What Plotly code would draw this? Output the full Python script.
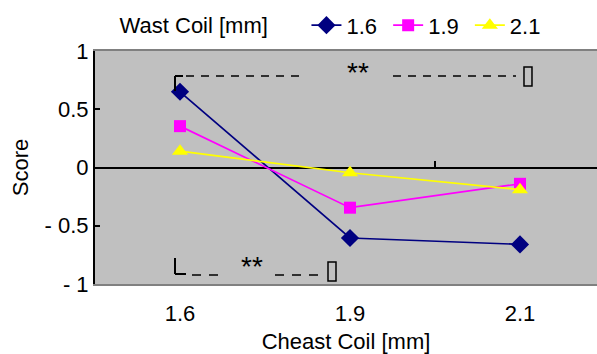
import plotly.graph_objects as go

categories = ["1.6", "1.9", "2.1"]
series_names = ["1.6", "1.9", "2.1"]
values_16 = [0.65, -0.605, -0.66]
values_19 = [0.355, -0.345, -0.14]
values_21 = [0.14, -0.045, -0.19]
y_tick_vals = [-1, -0.5, 0, 0.5, 1]
y_tick_text = ["- 1", "- 0.5", "0", "0.5", "1"]

colors = ["#000080", "#FF00FF", "#FFFF00"]
symbols = ["diamond", "square", "triangle-up"]
msizes = [14, 12, 14]
xpos = list(range(len(categories)))

FONT = "Liberation Sans"
FS = 22
fig = go.Figure()
for name, vals, c, s, ms in zip(series_names, [values_16, values_19, values_21], colors, symbols, msizes):
    fig.add_trace(go.Scatter(x=xpos, y=vals, name=name + "\u00a0", mode="lines+markers",
                             line=dict(color=c, width=1.7),
                             marker=dict(symbol=s, size=ms, color=c)))

# helper: pixel -> data conversion for annotation brackets
def dx(px):
    return (px - 180) / 170.0

def dy(py):
    return (167.5 - py) / 116.5

shapes = []
blk = dict(color="black", width=2)
# top bracket
shapes.append(dict(type="line", xref="x", yref="y", x0=dx(175), x1=dx(175), y0=dy(76), y1=dy(91), line=blk))
shapes.append(dict(type="line", xref="x", yref="y", x0=dx(175), x1=dx(183), y0=dy(76), y1=dy(76), line=blk))
shapes.append(dict(type="line", xref="x", yref="y", x0=dx(186), x1=dx(301), y0=dy(76), y1=dy(76),
                   line=dict(color="black", width=1.5, dash="8px,7px")))
shapes.append(dict(type="line", xref="x", yref="y", x0=dx(393), x1=dx(516), y0=dy(76), y1=dy(76),
                   line=dict(color="black", width=1.5, dash="8px,7px")))
shapes.append(dict(type="rect", xref="x", yref="y", x0=dx(524), x1=dx(532), y0=dy(67), y1=dy(86),
                   line=dict(color="black", width=1.5)))
# bottom bracket
shapes.append(dict(type="line", xref="x", yref="y", x0=dx(175), x1=dx(175), y0=dy(258), y1=dy(274), line=blk))
shapes.append(dict(type="line", xref="x", yref="y", x0=dx(175), x1=dx(186), y0=dy(274), y1=dy(274), line=blk))
shapes.append(dict(type="line", xref="x", yref="y", x0=dx(192), x1=dx(219), y0=dy(275), y1=dy(275),
                   line=dict(color="black", width=1.5, dash="9px,8px")))
shapes.append(dict(type="line", xref="x", yref="y", x0=dx(275), x1=dx(319), y0=dy(275), y1=dy(275),
                   line=dict(color="black", width=1.5, dash="9px,8px")))
shapes.append(dict(type="rect", xref="x", yref="y", x0=dx(328), x1=dx(336), y0=dy(262), y1=dy(281),
                   line=dict(color="black", width=1.5)))
# category divider tick on the zero axis
shapes.append(dict(type="line", xref="x", yref="y", x0=1.5, x1=1.5, y0=0, y1=dy(161), line=blk))

annotations = [
    dict(x=dx(358), y=dy(72), xref="x", yref="y", text="**", showarrow=False,
         font=dict(family=FONT, size=28, color="black")),
    dict(x=dx(252), y=dy(266), xref="x", yref="y", text="**", showarrow=False,
         font=dict(family=FONT, size=28, color="black")),
]

fig.update_layout(
    width=597, height=354,
    margin=dict(l=95, r=0, t=51, b=70, autoexpand=False),
    paper_bgcolor="white", plot_bgcolor="#C0C0C0",
    font=dict(family=FONT, size=FS, color="black"),
    showlegend=True,
    legend=dict(orientation="h", x=0.045, y=1.2, xanchor="left", yanchor="top",
                title=dict(text="Wast Coil [mm]\u00a0\u00a0\u00a0\u00a0\u00a0", font=dict(size=FS)),
                font=dict(size=FS), bgcolor="rgba(0,0,0,0)",
                tracegroupgap=0),
    shapes=shapes, annotations=annotations,
    xaxis=dict(range=[-0.5, 2.453], tickvals=xpos, ticktext=categories,
               showgrid=False, zeroline=False, ticks="", showline=True,
               linecolor="#808080", linewidth=2, mirror=True, ticklabelstandoff=9,
               title=dict(text="Cheast Coil [mm]", standoff=8, font=dict(size=FS))),
    yaxis=dict(range=[-1, 1], tickvals=y_tick_vals, ticktext=y_tick_text,
               showgrid=False, zeroline=True, zerolinecolor="black", zerolinewidth=2,
               ticks="inside", ticklen=5, tickwidth=2, tickcolor="black",
               showline=True, linecolor="black", linewidth=2,
               title=dict(text="Score", standoff=10, font=dict(size=FS))),
)
fig.write_html("out.html", config={"displayModeBar": False},
               post_script="document.body.style.margin='0';")
